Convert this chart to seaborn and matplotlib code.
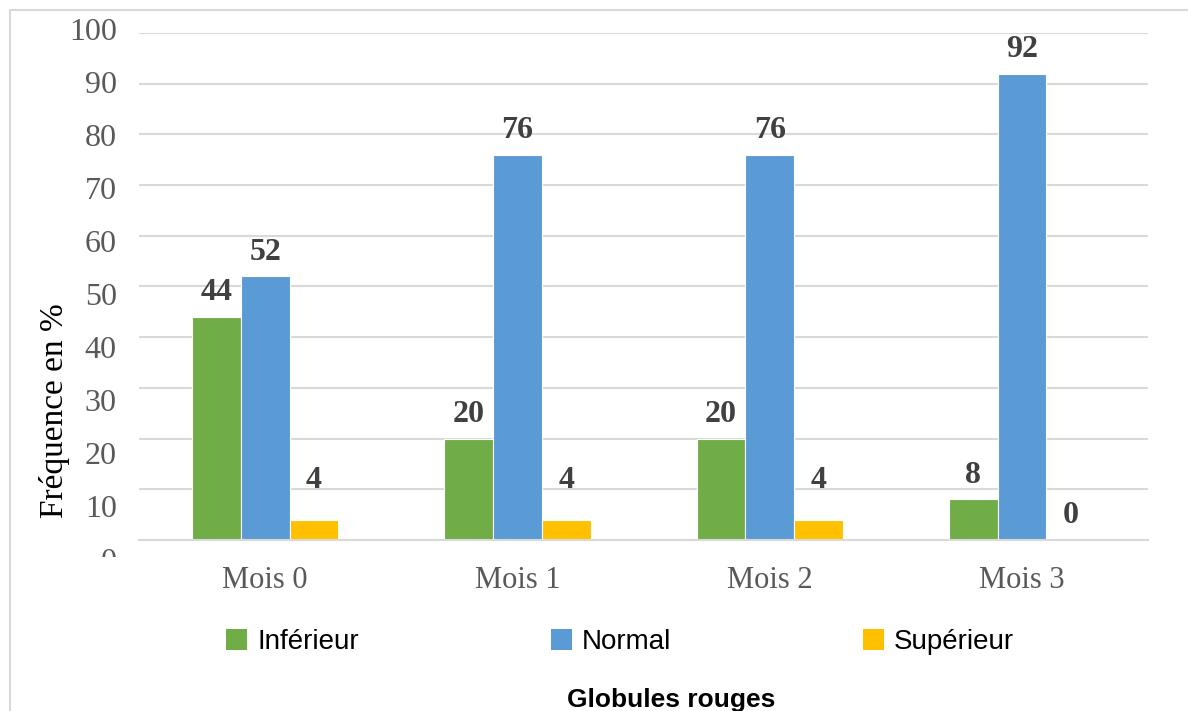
import matplotlib
matplotlib.use("Agg")
import matplotlib.pyplot as plt
import matplotlib.patches as mpatches
import matplotlib.transforms as mtransforms
import numpy as np
import pandas as pd
import seaborn as sns

categories = ['Mois 0', 'Mois 1', 'Mois 2', 'Mois 3']
inferieur = [44, 20, 20, 8]
normal = [52, 76, 76, 92]
superieur = [4, 4, 4, 0]
series_names = ['Inférieur', 'Normal', 'Supérieur']
series_colors = ['#70AD47', '#5B9BD5', '#FFC000']
yticks = [0, 10, 20, 30, 40, 50, 60, 70, 80, 90, 100]

data = pd.DataFrame({
    'mois': categories * 3,
    'freq': inferieur + normal + superieur,
    'niveau': [series_names[0]] * 4 + [series_names[1]] * 4 + [series_names[2]] * 4,
})

sns.set_style('white')
serif = ['Liberation Serif', 'DejaVu Serif']
sans = ['Liberation Sans', 'DejaVu Sans']

fig = plt.figure(figsize=(11.88, 7.11), dpi=100)
ax = fig.add_axes([0.117, 0.2405, 0.8494, 0.7131])

sns.barplot(data=data, x='mois', y='freq', hue='niveau', hue_order=series_names,
            palette=series_colors, width=0.58, edgecolor='white', linewidth=0.8,
            saturation=1, legend=False, ax=ax)

ax.set_ylim(0, 100)
ax.set_xlim(-0.5, 3.5)
ax.set_yticks(yticks)
ax.set_yticklabels([])
ax.yaxis.grid(True, color='#d9d9d9', linewidth=1.5)
ax.set_axisbelow(True)
for s in ['left', 'right', 'top']:
    ax.spines[s].set_visible(False)
ax.spines['bottom'].set_color('#d9d9d9')
ax.spines['bottom'].set_linewidth(1.5)
ax.tick_params(axis='both', length=0)
ax.tick_params(axis='x', pad=19)
for lab in ax.get_xticklabels():
    lab.set_family(serif)
    lab.set_fontsize(22)
    lab.set_color('#595959')

# y tick labels sit on a slightly stretched scale in the original
trans = mtransforms.blended_transform_factory(ax.transAxes, ax.transData)
for v in yticks:
    ax.text(-0.022, 100 - (100 - v) * 1.0434, str(v), transform=trans,
            ha='right', va='center', fontsize=23, color='#595959',
            family=serif, clip_on=False)

ax.set_xlabel('')
ax.set_ylabel('Fréquence en %', fontsize=24, family=serif, color='black')
ax.yaxis.set_label_coords(-0.068, 0.256)

# data labels
for i, cont in enumerate(ax.containers):
    vals = [inferieur, normal, superieur][i]
    for bar, v in zip(cont, vals):
        pad = 18 if (i == 2 and v > 0) else 7
        ax.annotate(str(v), (bar.get_x() + bar.get_width() / 2, bar.get_height()),
                    xytext=(0, pad), textcoords='offset points', ha='center', va='bottom',
                    fontsize=23, fontweight='bold', color='#404040', family=serif)

# hide lower part of the "0" label like the original
fig.add_artist(mpatches.Rectangle((0.075, 0.19), 0.04, 0.0266, transform=fig.transFigure,
                                  facecolor='white', edgecolor='none', zorder=10))

handles = [mpatches.Patch(facecolor=c, edgecolor='none') for c in series_colors]
fig.legend(handles, series_names, loc='center', bbox_to_anchor=(0.522, 0.097),
           ncol=3, frameon=False, prop={'family': sans, 'size': 20},
           labelcolor='black', handlelength=0.76, handleheight=0.76,
           handletextpad=0.36, columnspacing=6.9)

fig.text(0.565, 0.016, 'Globules rouges', ha='center', va='center',
         fontsize=19, fontweight='bold', family=sans, color='black')

# border around the chart area
fig.add_artist(mpatches.Rectangle((10 / 1188, -0.2), 1.2, 1.2 - 10 / 711,
                                  transform=fig.transFigure, facecolor='none',
                                  edgecolor='#d9d9d9', linewidth=1.5, zorder=0))

fig.savefig('out.png', dpi=100)
